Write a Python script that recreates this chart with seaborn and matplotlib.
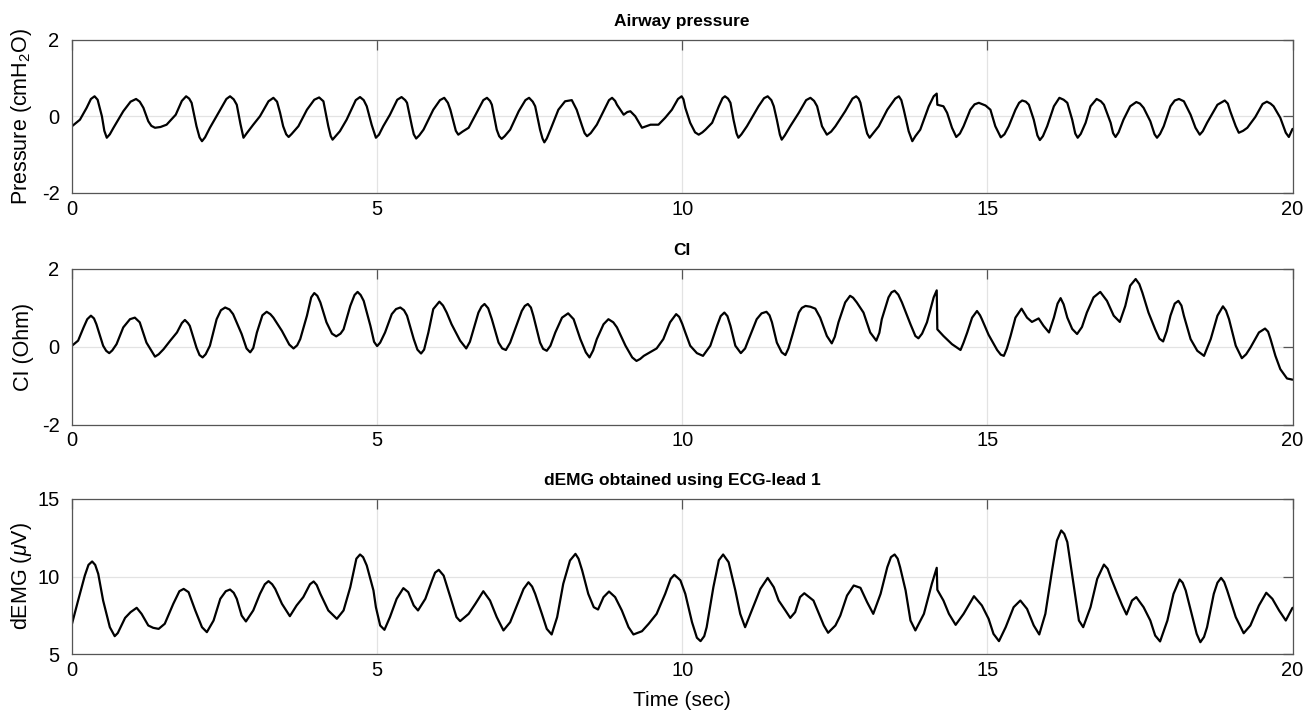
import numpy as np
import pandas as pd
import matplotlib
matplotlib.use("Agg")
import matplotlib.pyplot as plt
import seaborn as sns

# ---------------- data ----------------
paw_t = [0.00, 0.13, 0.24, 0.31, 0.37, 0.42, 0.49, 0.53, 0.57, 0.62, 0.68, 0.84, 0.96, 1.05, 1.11,
         1.17, 1.25, 1.30, 1.36, 1.45, 1.55, 1.70, 1.80, 1.87, 1.92, 1.96, 2.04, 2.09, 2.13, 2.18,
         2.26, 2.43, 2.53, 2.59, 2.65, 2.70, 2.76, 2.81, 2.86, 2.97, 3.08, 3.22, 3.30, 3.36, 3.41,
         3.46, 3.51, 3.55, 3.60, 3.71, 3.85, 3.97, 4.05, 4.12, 4.20, 4.24, 4.27, 4.32, 4.39, 4.50,
         4.65, 4.72, 4.78, 4.83, 4.91, 4.98, 5.03, 5.10, 5.21, 5.33, 5.40, 5.46, 5.49, 5.57, 5.60,
         5.64, 5.69, 5.76, 5.92, 6.03, 6.10, 6.16, 6.20, 6.29, 6.33, 6.40, 6.50, 6.63, 6.74, 6.80,
         6.85, 6.88, 6.96, 7.00, 7.04, 7.09, 7.18, 7.32, 7.43, 7.49, 7.55, 7.59, 7.67, 7.71, 7.74,
         7.78, 7.84, 7.97, 8.08, 8.19, 8.27, 8.36, 8.40, 8.44, 8.50, 8.60, 8.71, 8.80, 8.85, 8.90,
         8.93, 9.04, 9.10, 9.15, 9.23, 9.34, 9.48, 9.61, 9.72, 9.83, 9.93, 9.99, 10.02, 10.05, 10.13,
         10.21, 10.27, 10.33, 10.38, 10.49, 10.60, 10.66, 10.70, 10.75, 10.79, 10.84, 10.89, 10.92,
         10.97, 11.06, 11.25, 11.34, 11.40, 11.46, 11.50, 11.55, 11.60, 11.63, 11.68, 11.77, 11.91,
         12.03, 12.10, 12.16, 12.21, 12.29, 12.37, 12.44, 12.51, 12.67, 12.79, 12.85, 12.89, 12.92,
         13.00, 13.03, 13.07, 13.12, 13.22, 13.36, 13.49, 13.55, 13.59, 13.63, 13.71, 13.77, 13.82,
         13.90, 14.04, 14.12, 14.17, 14.18, 14.28, 14.34, 14.42, 14.49, 14.55, 14.61, 14.72, 14.79,
         14.86, 14.97, 15.05, 15.13, 15.22, 15.28, 15.35, 15.46, 15.52, 15.57, 15.63, 15.68, 15.76,
         15.82, 15.86, 15.91, 15.98, 16.09, 16.18, 16.25, 16.31, 16.39, 16.44, 16.48, 16.53, 16.61,
         16.69, 16.79, 16.86, 16.91, 17.02, 17.06, 17.10, 17.15, 17.23, 17.34, 17.44, 17.50, 17.56,
         17.67, 17.74, 17.78, 17.83, 17.89, 18.00, 18.07, 18.14, 18.22, 18.33, 18.41, 18.48, 18.53,
         18.60, 18.77, 18.89, 18.94, 18.98, 19.07, 19.12, 19.19, 19.26, 19.39, 19.51, 19.58, 19.64,
         19.69, 19.80, 19.89, 19.94, 20.00]
paw_v = [-0.26, -0.09, 0.22, 0.45, 0.52, 0.43, 0.00, -0.38, -0.56, -0.47, -0.30, 0.13, 0.38, 0.45, 0.38,
         0.22, -0.13, -0.25, -0.30, -0.28, -0.22, 0.04, 0.40, 0.52, 0.46, 0.35, -0.26, -0.55, -0.65, -0.55,
         -0.30, 0.17, 0.45, 0.52, 0.44, 0.30, -0.20, -0.56, -0.45, -0.22, 0.00, 0.39, 0.48, 0.38, 0.09,
         -0.26, -0.47, -0.54, -0.46, -0.26, 0.17, 0.43, 0.49, 0.39, -0.26, -0.52, -0.61, -0.52, -0.39, -0.09,
         0.42, 0.50, 0.42, 0.26, -0.22, -0.56, -0.48, -0.26, 0.04, 0.43, 0.50, 0.42, 0.35, -0.26, -0.47,
         -0.58, -0.50, -0.35, 0.17, 0.42, 0.48, 0.35, 0.17, -0.38, -0.48, -0.40, -0.30, 0.09, 0.42, 0.48,
         0.40, 0.30, -0.35, -0.52, -0.59, -0.52, -0.35, 0.13, 0.42, 0.48, 0.38, 0.26, -0.35, -0.58, -0.68,
         -0.58, -0.35, 0.17, 0.39, 0.42, 0.17, -0.26, -0.44, -0.52, -0.44, -0.22, 0.13, 0.42, 0.48, 0.40,
         0.30, 0.04, 0.11, 0.13, 0.00, -0.30, -0.22, -0.22, -0.04, 0.17, 0.45, 0.52, 0.44, 0.22, -0.17,
         -0.42, -0.48, -0.42, -0.35, -0.17, 0.26, 0.47, 0.52, 0.46, 0.35, -0.09, -0.45, -0.56,
         -0.47, -0.26, 0.26, 0.47, 0.52, 0.42, 0.26, -0.09, -0.48, -0.61, -0.50, -0.26, 0.09,
         0.42, 0.48, 0.40, 0.26, -0.26, -0.48, -0.40, -0.26, 0.13, 0.46, 0.52, 0.46, 0.35,
         -0.26, -0.45, -0.56, -0.46, -0.26, 0.17, 0.46, 0.52, 0.42, 0.17, -0.39, -0.65, -0.52,
         -0.35, 0.26, 0.52, 0.59, 0.30, 0.26, 0.09, -0.30, -0.54, -0.45, -0.26, 0.17, 0.31,
         0.35, 0.28, 0.17, -0.26, -0.55, -0.47, -0.26, 0.17, 0.35, 0.41, 0.38, 0.30, -0.09,
         -0.50, -0.62, -0.52, -0.26, 0.26, 0.48, 0.43, 0.35, -0.09, -0.45, -0.56, -0.46, -0.17,
         0.26, 0.45, 0.39, 0.30, -0.17, -0.44, -0.54, -0.42, -0.09, 0.26, 0.37, 0.33, 0.22,
         -0.13, -0.47, -0.56, -0.46, -0.26, 0.26, 0.41, 0.45, 0.39, 0.04, -0.30, -0.48, -0.39,
         -0.17, 0.30, 0.41, 0.33, 0.13, -0.26, -0.43, -0.38, -0.30, -0.02, 0.32, 0.38, 0.33,
         0.26, -0.04, -0.43, -0.54, -0.33]

ci_t = [0.00, 0.10, 0.19, 0.25, 0.31, 0.36, 0.40, 0.51, 0.56, 0.61, 0.66, 0.73, 0.84, 0.95, 1.03,
        1.11, 1.22, 1.36, 1.42, 1.50, 1.61, 1.72, 1.80, 1.85, 1.90, 1.93, 2.04, 2.09, 2.14, 2.19,
        2.26, 2.37, 2.44, 2.51, 2.58, 2.64, 2.78, 2.86, 2.92, 2.97, 3.03, 3.12, 3.19, 3.25, 3.30,
        3.44, 3.56, 3.63, 3.69, 3.74, 3.85, 3.92, 3.97, 4.02, 4.07, 4.17, 4.26, 4.33, 4.40, 4.45,
        4.56, 4.63, 4.68, 4.73, 4.78, 4.89, 4.95, 5.00, 5.05, 5.13, 5.24, 5.31, 5.38, 5.44, 5.49,
        5.60, 5.66, 5.72, 5.77, 5.84, 5.92, 6.02, 6.08, 6.14, 6.22, 6.36, 6.46, 6.52, 6.58, 6.66,
        6.71, 6.76, 6.82, 6.88, 6.99, 7.05, 7.11, 7.18, 7.26, 7.37, 7.42, 7.47, 7.52, 7.56, 7.67,
        7.72, 7.78, 7.84, 7.92, 8.03, 8.13, 8.22, 8.33, 8.42, 8.48, 8.54, 8.60, 8.71, 8.79, 8.87,
        8.93, 9.07, 9.18, 9.25, 9.31, 9.37, 9.48, 9.58, 9.69, 9.80, 9.90, 9.95, 10.00, 10.05, 10.13,
        10.24, 10.34, 10.46, 10.57, 10.63, 10.69, 10.74, 10.79, 10.87, 10.96, 11.03, 11.09, 11.22,
        11.30, 11.38, 11.43, 11.47, 11.55, 11.63, 11.69, 11.74, 11.80, 11.91, 11.96, 12.02, 12.10,
        12.18, 12.26, 12.37, 12.45, 12.50, 12.56, 12.67, 12.75, 12.80, 12.86, 12.97, 13.08, 13.18,
        13.23, 13.27, 13.38, 13.43, 13.48, 13.54, 13.60, 13.74, 13.82, 13.87, 13.93, 14.01, 14.12,
        14.17, 14.18, 14.28, 14.42, 14.56, 14.61, 14.67, 14.75, 14.83, 14.88, 14.91, 15.02, 15.16,
        15.22, 15.27, 15.32, 15.38, 15.46, 15.56, 15.65, 15.73, 15.84, 15.92, 16.01, 16.09, 16.15,
        16.20, 16.25, 16.31, 16.39, 16.47, 16.55, 16.63, 16.74, 16.85, 16.96, 17.07, 17.17, 17.26,
        17.34, 17.43, 17.49, 17.54, 17.64, 17.75, 17.82, 17.88, 17.94, 18.00, 18.07, 18.13, 18.18,
        18.22, 18.33, 18.44, 18.55, 18.66, 18.77, 18.86, 18.91, 18.96, 19.07, 19.17, 19.24, 19.31,
        19.45, 19.55, 19.60, 19.64, 19.72, 19.80, 19.91, 20.00]
ci_v = [0.02, 0.15, 0.49, 0.70, 0.79, 0.72, 0.57, 0.02, -0.11, -0.17, -0.10, 0.06, 0.49, 0.70, 0.74,
        0.62, 0.10, -0.26, -0.20, -0.07, 0.15, 0.36, 0.60, 0.68, 0.60, 0.53, -0.03, -0.22, -0.28, -0.20,
        0.02, 0.70, 0.93, 1.00, 0.95, 0.83, 0.32, -0.05, -0.15, -0.04, 0.36, 0.80, 0.89, 0.83, 0.74,
        0.40, 0.05, -0.05, 0.03, 0.19, 0.79, 1.26, 1.37, 1.30, 1.13, 0.62, 0.33, 0.26, 0.33, 0.44,
        1.04, 1.32, 1.40, 1.32, 1.17, 0.53, 0.12, 0.01, 0.10, 0.36, 0.83, 0.96, 1.00, 0.93, 0.79,
        0.19, -0.08, -0.18, -0.08, 0.36, 0.96, 1.15, 1.05, 0.87, 0.57, 0.15, -0.05, 0.12, 0.44, 0.87,
        1.02, 1.09, 0.98, 0.70, 0.10, -0.05, -0.09, 0.10, 0.44, 0.91, 1.04, 1.09, 1.00, 0.79, 0.10,
        -0.06, -0.11, 0.02, 0.36, 0.74, 0.85, 0.70, 0.19, -0.15, -0.28, -0.10, 0.19, 0.57, 0.70, 0.62,
        0.49, 0.02, -0.28, -0.37, -0.32, -0.24, -0.14, -0.05, 0.19, 0.62, 0.83, 0.76, 0.58, 0.36, 0.02,
        -0.17, -0.24, 0.02, 0.53, 0.78, 0.87, 0.78, 0.53, 0.02, -0.17, -0.05, 0.19, 0.70,
        0.85, 0.89, 0.80, 0.62, 0.10, -0.15, -0.22, -0.05, 0.27, 0.87, 0.99, 1.04, 1.02,
        0.97, 0.74, 0.27, 0.08, 0.25, 0.62, 1.13, 1.30, 1.25, 1.13, 0.87, 0.36, 0.15,
        0.35, 0.70, 1.26, 1.39, 1.43, 1.33, 1.13, 0.57, 0.27, 0.21, 0.33, 0.62, 1.26,
        1.44, 0.44, 0.27, 0.06, -0.09, 0.10, 0.36, 0.74, 0.91, 0.80, 0.70, 0.30, -0.09,
        -0.21, -0.24, -0.05, 0.27, 0.74, 0.97, 0.74, 0.63, 0.72, 0.53, 0.36, 0.74, 1.10,
        1.24, 1.08, 0.74, 0.45, 0.32, 0.50, 0.87, 1.26, 1.40, 1.17, 0.79, 0.63, 1.04,
        1.56, 1.73, 1.60, 1.38, 0.87, 0.44, 0.20, 0.13, 0.40, 0.79, 1.10, 1.17, 1.05,
        0.79, 0.19, -0.11, -0.24, 0.19, 0.79, 1.03, 0.92, 0.70, 0.02, -0.30, -0.20, -0.03,
        0.36, 0.46, 0.38, 0.19, -0.24, -0.58, -0.82, -0.85]

emg_t = [0.00, 0.10, 0.21, 0.27, 0.33, 0.38, 0.43, 0.51, 0.62, 0.70, 0.75, 0.87, 0.96, 1.06, 1.14,
         1.25, 1.33, 1.42, 1.52, 1.66, 1.76, 1.83, 1.91, 2.02, 2.13, 2.21, 2.32, 2.43, 2.52, 2.59,
         2.65, 2.70, 2.78, 2.85, 2.97, 3.08, 3.16, 3.22, 3.28, 3.33, 3.44, 3.57, 3.68, 3.79, 3.90,
         3.96, 4.01, 4.07, 4.20, 4.34, 4.45, 4.56, 4.66, 4.72, 4.77, 4.83, 4.94, 4.98, 5.05, 5.12,
         5.21, 5.32, 5.43, 5.51, 5.60, 5.67, 5.79, 5.90, 5.95, 6.01, 6.09, 6.20, 6.30, 6.36, 6.50,
         6.61, 6.74, 6.85, 6.96, 7.07, 7.18, 7.29, 7.40, 7.48, 7.54, 7.59, 7.70, 7.78, 7.86, 7.95,
         8.05, 8.16, 8.25, 8.30, 8.36, 8.46, 8.55, 8.62, 8.71, 8.80, 8.90, 9.01, 9.12, 9.20, 9.34,
         9.45, 9.58, 9.72, 9.81, 9.87, 9.93, 9.97, 10.05, 10.16, 10.24, 10.30, 10.36, 10.40, 10.51,
         10.60, 10.67, 10.76, 10.87, 10.95, 11.03, 11.14, 11.28, 11.40, 11.50, 11.58, 11.69, 11.77,
         11.85, 11.93, 12.00, 12.15, 12.23, 12.32, 12.39, 12.51, 12.59, 12.70, 12.81, 12.92, 13.03,
         13.13, 13.25, 13.36, 13.42, 13.48, 13.53, 13.57, 13.66, 13.74, 13.82, 13.96, 14.09, 14.17,
         14.18, 14.28, 14.37, 14.48, 14.61, 14.78, 14.91, 15.02, 15.10, 15.19, 15.30, 15.43, 15.54,
         15.65, 15.76, 15.85, 15.95, 16.06, 16.14, 16.21, 16.26, 16.31, 16.42, 16.50, 16.57, 16.69,
         16.80, 16.91, 16.97, 17.02, 17.13, 17.21, 17.28, 17.37, 17.44, 17.56, 17.67, 17.75, 17.83,
         17.95, 18.05, 18.15, 18.20, 18.25, 18.36, 18.43, 18.49, 18.55, 18.60, 18.71, 18.77, 18.83,
         18.88, 18.93, 19.07, 19.20, 19.31, 19.45, 19.57, 19.67, 19.78, 19.89, 20.00]
emg_v = [6.95, 8.45, 10.06, 10.75, 10.97, 10.75, 10.17, 8.45, 6.73, 6.15, 6.35, 7.33, 7.70, 7.98, 7.59,
         6.84, 6.69, 6.62, 6.95, 8.24, 9.05, 9.20, 8.99, 7.81, 6.73, 6.41, 7.16, 8.56, 9.05, 9.16,
         8.95, 8.56, 7.48, 7.10, 7.81, 8.88, 9.50, 9.70, 9.50, 9.20, 8.24, 7.44, 8.13, 8.67, 9.50,
         9.68, 9.45, 8.88, 7.81, 7.27, 7.81, 9.31, 11.15, 11.42, 11.25, 10.71, 9.10, 8.02, 6.84, 6.56,
         7.38, 8.56, 9.25, 8.99, 8.13, 7.81, 8.56, 9.74, 10.25, 10.43, 10.06, 8.67, 7.38, 7.12, 7.59,
         8.24, 9.05, 8.45, 7.38, 6.52, 7.05, 8.13, 9.20, 9.63, 9.35, 8.88, 7.59, 6.62, 6.26, 7.38,
         9.53, 11.03, 11.46, 11.15, 10.39, 8.88, 8.02, 7.87, 8.67, 9.03, 8.67, 7.81, 6.73, 6.26, 6.47,
         6.95, 7.59, 8.88, 9.85, 10.11, 9.90, 9.75, 8.88, 7.05, 6.05, 5.83, 6.15, 6.73, 9.31,
         11.05, 11.42, 10.92, 9.10, 7.59, 6.73, 7.81, 9.20, 9.91, 9.31, 8.45, 7.81, 7.33,
         7.70, 8.67, 8.92, 8.45, 7.70, 6.84, 6.37, 6.84, 7.48, 8.77, 9.42, 9.27, 8.34,
         7.59, 8.88, 10.60, 11.25, 11.42, 11.15, 10.60, 9.10, 7.16, 6.52, 7.59, 9.53, 10.56,
         9.14, 8.45, 7.59, 6.88, 7.59, 8.73, 8.13, 7.27, 6.30, 5.83, 6.73, 8.02, 8.45,
         7.91, 6.84, 6.26, 7.59, 10.39, 12.32, 12.97, 12.75, 12.22, 9.31, 7.16, 6.73, 8.02,
         9.85, 10.77, 10.50, 9.96, 8.88, 8.13, 7.55, 8.45, 8.67, 8.02, 7.16, 6.19, 5.81,
         7.16, 8.88, 9.81, 9.60, 9.10, 7.38, 6.30, 5.76, 6.10, 6.73, 8.88, 9.60, 9.91,
         9.65, 9.10, 7.38, 6.34, 6.84, 8.13, 8.95, 8.56, 7.81, 7.16, 7.98]

titles = ["Airway pressure", "CI", "dEMG obtained using ECG-lead 1"]
ylabels = ["Pressure (cmH$_2$O)", "CI (Ohm)", "dEMG ($\\mu$V)"]
yticks = [[-2, 0, 2], [-2, 0, 2], [5, 10, 15]]
ylims = [(-2, 2), (-2, 2), (5, 15)]
xticks = [0, 5, 10, 15, 20]
xlabel = "Time (sec)"

# ---------------- style ----------------
sns.set_style("white")
plt.rcParams['font.family'] = ['Liberation Sans', 'DejaVu Sans']
plt.rcParams['mathtext.fontset'] = 'custom'
plt.rcParams['mathtext.rm'] = 'Liberation Sans'
plt.rcParams['mathtext.it'] = 'Liberation Sans:italic'
plt.rcParams['mathtext.bf'] = 'Liberation Sans:bold'
plt.rcParams['axes.unicode_minus'] = False
for k in ['text.color', 'axes.labelcolor', 'xtick.color', 'ytick.color']:
    plt.rcParams[k] = 'black'

fig = plt.figure(figsize=(13.06, 7.12), dpi=100)
W, H = 1306, 712
left, right = 72, 1292.5
boxes = [(39.5, 193), (268.5, 424.5), (499, 654)]
series = [(paw_t, paw_v), (ci_t, ci_v), (emg_t, emg_v)]

for i, ((top, bot), (tt, vv)) in enumerate(zip(boxes, series)):
    ax = fig.add_axes([left / W, 1 - bot / H, (right - left) / W, (bot - top) / H])
    df = pd.DataFrame({"t": tt, "v": vv})
    sns.lineplot(data=df, x="t", y="v", ax=ax, color="black", linewidth=1.6,
                 estimator=None, sort=False)
    for ln in ax.get_lines():
        ln.set_solid_joinstyle("round")
    ax.set_xlim(0, 20)
    ax.set_ylim(*ylims[i])
    ax.set_xticks(xticks)
    ax.set_yticks(yticks[i])
    ax.grid(True, color="#e3e3e3", linewidth=0.9)
    ax.set_axisbelow(True)
    for s in ax.spines.values():
        s.set_visible(True)
        s.set_color("#555555")
        s.set_linewidth(0.9)
    ax.tick_params(direction="in", length=7, width=0.9, color="#555555",
                   top=True, right=True, labelsize=14.5, labelcolor="black")
    ax.tick_params(axis="x", pad=5)
    ax.tick_params(axis="y", pad=9)
    ax.set_title(titles[i], fontsize=12.5, fontweight="bold", pad=10)
    ax.set_ylabel(ylabels[i], fontsize=15.5)
    ax.yaxis.set_label_coords(-0.031, 0.5)
    if i == 2:
        ax.set_xlabel(xlabel, fontsize=15, labelpad=8)
    else:
        ax.set_xlabel("")

fig.savefig("out.png", dpi=100)
